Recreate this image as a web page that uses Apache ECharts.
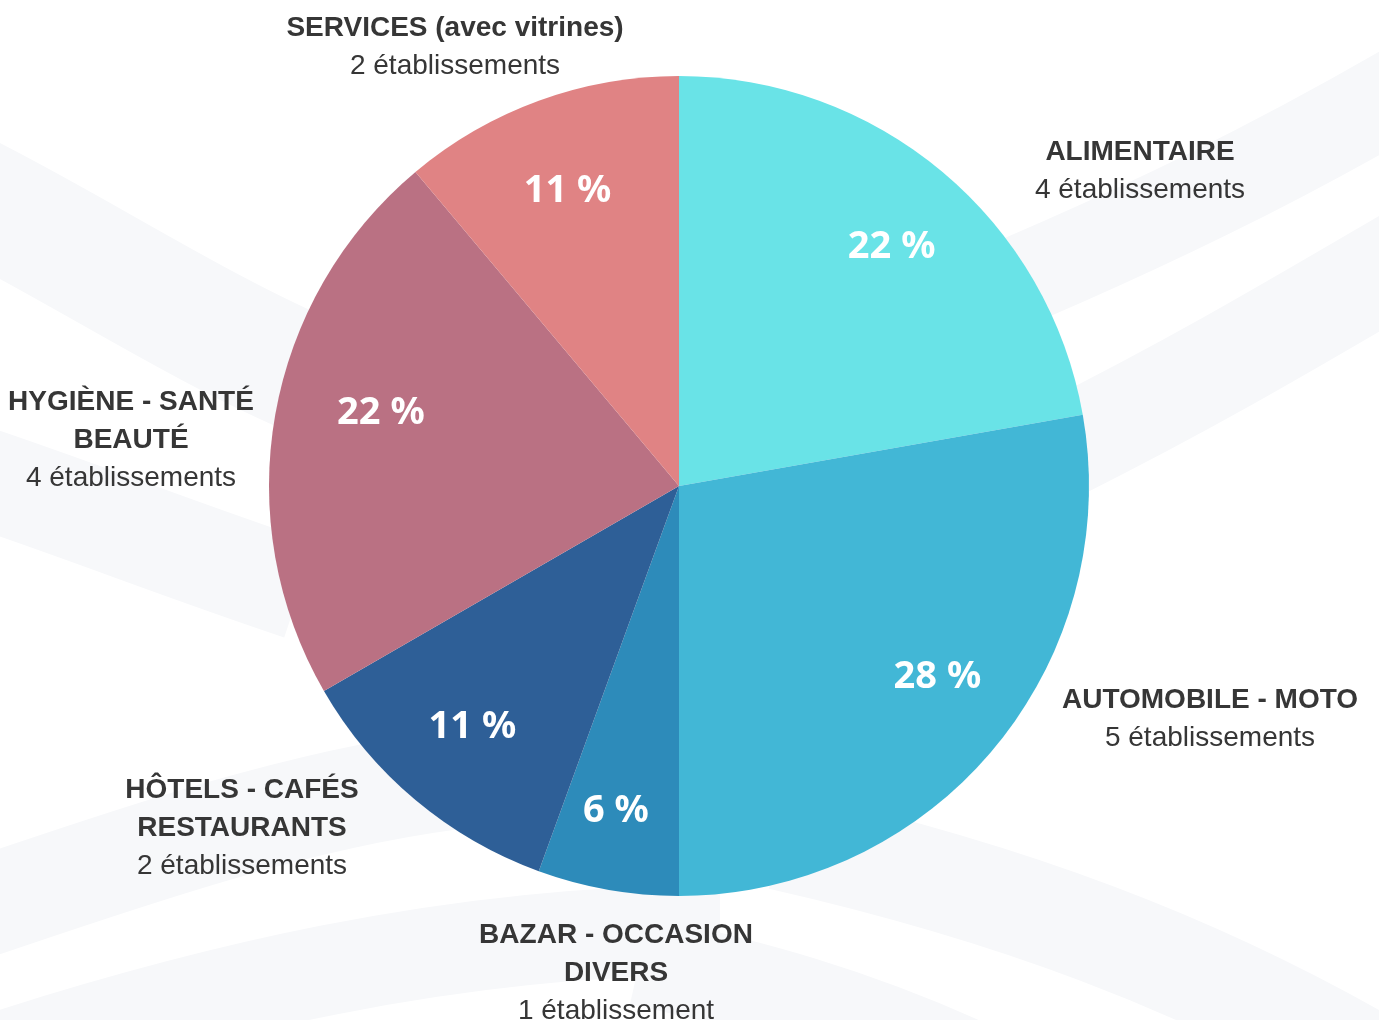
<!DOCTYPE html>
<html>
<head>
<meta charset="utf-8">
<script src="https://cdn.jsdelivr.net/npm/echarts@6/dist/echarts.min.js"></script>
<style>
  html, body { margin: 0; padding: 0; background: #fff; }
  #pie-chart { width: 1379px; height: 1020px; }
</style>
</head>
<body>
<div id="pie-chart"></div>
<script>
// donnees (ordre horaire depuis midi)
var categories = ['ALIMENTAIRE', 'AUTOMOBILE - MOTO', 'BAZAR - OCCASION\nDIVERS', 'HÔTELS - CAFÉS\nRESTAURANTS', 'HYGIÈNE - SANTÉ\nBEAUTÉ', 'SERVICES (avec vitrines)'];
var etablissements = [4, 5, 1, 2, 4, 2];
var couleurs = ['#69e3e7', '#42b7d6', '#2d8bba', '#2e5f97', '#ba7183', '#e08384'];

// position des etiquettes exterieures (centre du bloc) et decalage des pourcentages
var posLabels = [[1140, 171], [1210, 719], [616, 973], [242, 828], [131, 440], [455, 47]];
var decalPct = [[5, 9], [11, -16], [-7, 7], [1, -6], [20, -17], [-1, 9]];

var data = [];
for (var i = 0; i < categories.length; i++) {
    data.push({ name: categories[i], value: etablissements[i], itemStyle: { color: couleurs[i] } });
}

var chart = echarts.init(document.getElementById('pie-chart'));

// bandes decoratives du fond
var bande = '#f7f8fa';
function courbe(x1, y1, cx1, cy1, cx2, cy2, x2, y2, w) {
    return {
        type: 'bezierCurve', silent: true, z: 0,
        shape: { x1: x1, y1: y1, cpx1: cx1, cpy1: cy1, cpx2: cx2, cpy2: cy2, x2: x2, y2: y2 },
        style: { stroke: bande, lineWidth: w, fill: null }
    };
}

var option = {
    backgroundColor: '#fff',
    animation: false,
    graphic: [
        courbe(-40, 190, 80, 250, 200, 330, 320, 380, 120),
        courbe(-40, 470, 80, 510, 180, 550, 300, 590, 100),
        courbe(-40, 915, 150, 850, 300, 800, 450, 780, 100),
        courbe(-40, 1070, 200, 990, 450, 930, 720, 930, 90),
        courbe(1420, 80, 1300, 150, 1150, 230, 900, 330, 90),
        courbe(1420, 250, 1300, 320, 1200, 380, 1060, 450, 100),
        courbe(780, 840, 1000, 890, 1200, 960, 1400, 1080, 100),
        courbe(640, 960, 750, 985, 850, 1010, 980, 1070, 90)
    ],
    series: [
        {
            name: 'Etablissements',
            type: 'pie',
            center: [679, 486],
            radius: [0, 410],
            startAngle: 90,
            clockwise: true,
            avoidLabelOverlap: false,
            silent: true,
            label: {
                show: true,
                position: 'outside',
                formatter: function (p) {
                    var lignes = p.name.split('\n').map(function (l) { return '{b|' + l + '}'; });
                    var n = p.value + (p.value > 1 ? ' établissements' : ' établissement');
                    return lignes.join('\n') + '\n{n|' + n + '}';
                },
                rich: {
                    b: { fontFamily: 'Liberation Sans', fontWeight: 'bold', fontSize: 28, lineHeight: 38, color: '#363636', align: 'center' },
                    n: { fontFamily: 'Liberation Sans', fontSize: 28, lineHeight: 38, color: '#363636', align: 'center' }
                }
            },
            labelLine: { show: false },
            labelLayout: function (p) {
                var pos = posLabels[p.dataIndex];
                return { x: pos[0], y: pos[1], align: 'center', verticalAlign: 'middle' };
            },
            data: data
        },
        {
            name: 'Pourcentages',
            type: 'pie',
            center: [679, 486],
            radius: [230, 410],
            startAngle: 90,
            clockwise: true,
            silent: true,
            itemStyle: { color: 'rgba(0,0,0,0)' },
            label: {
                show: true,
                position: 'inside',
                formatter: function (p) { return Math.round(p.percent) + ' %'; },
                fontFamily: 'Noto Sans',
                fontWeight: 'bold',
                fontSize: 38,
                color: '#fff'
            },
            labelLine: { show: false },
            labelLayout: function (p) {
                var d = decalPct[p.dataIndex];
                return { dx: d[0], dy: d[1] };
            },
            data: etablissements.map(function (v, i) { return { name: categories[i], value: v }; })
        }
    ]
};

chart.setOption(option);
</script>
</body>
</html>
